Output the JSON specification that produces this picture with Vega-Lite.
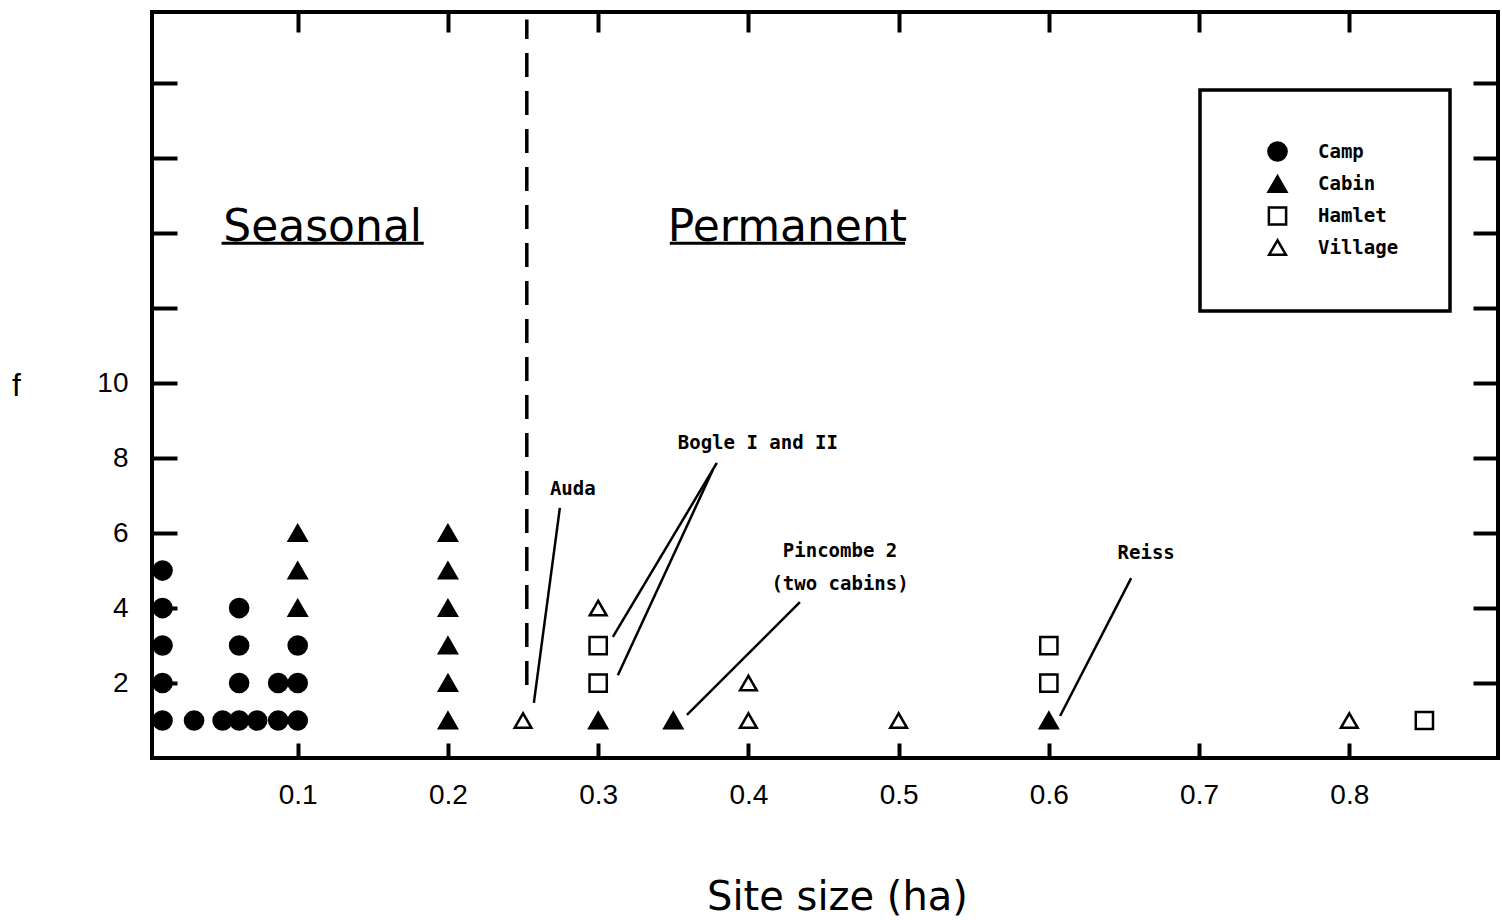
{
  "$schema": "https://vega.github.io/schema/vega-lite/v6.json",
  "width": 1346,
  "height": 746,
  "autosize": {"type": "none"},
  "padding": {"left": 152, "top": 12, "right": 4, "bottom": 162},
  "background": "white",
  "config": {
    "view": {"stroke": "black", "strokeWidth": 4},
    "axis": {"domain": false, "grid": false, "tickColor": "black", "tickWidth": 4, "labelColor": "black", "labelFont": "Liberation Sans", "labelFontSize": 28, "titleColor": "black", "labelFlush": false, "labelOverlap": false, "labelBound": false},
    "legend": {"title": null, "orient": "none", "legendX": 1048, "legendY": 78, "padding": 51, "strokeColor": "black", "strokeWidth": 3.5, "symbolOffset": 16,
               "labelFont": "DejaVu Sans Mono", "labelFontWeight": "bold", "labelFontSize": 19, "labelColor": "black", "labelOffset": 30, "rowPadding": 4.5,
               "symbolStrokeWidth": 2.5, "symbolStrokeColor": "black"}
  },
  "datasets": {
    "divider": [{"x": 0.2525, "y1": 1.95, "y2": 19.7}],
    "points": [
      {"size": 0.01, "f": 1, "type": "Camp"}, {"size": 0.01, "f": 2, "type": "Camp"}, {"size": 0.01, "f": 3, "type": "Camp"}, {"size": 0.01, "f": 4, "type": "Camp"}, {"size": 0.01, "f": 5, "type": "Camp"},
      {"size": 0.031, "f": 1, "type": "Camp"}, {"size": 0.05, "f": 1, "type": "Camp"},
      {"size": 0.061, "f": 1, "type": "Camp"}, {"size": 0.061, "f": 2, "type": "Camp"}, {"size": 0.061, "f": 3, "type": "Camp"}, {"size": 0.061, "f": 4, "type": "Camp"},
      {"size": 0.073, "f": 1, "type": "Camp"}, {"size": 0.087, "f": 1, "type": "Camp"}, {"size": 0.087, "f": 2, "type": "Camp"},
      {"size": 0.1, "f": 1, "type": "Camp"}, {"size": 0.1, "f": 2, "type": "Camp"}, {"size": 0.1, "f": 3, "type": "Camp"},
      {"size": 0.1, "f": 4, "type": "Cabin"}, {"size": 0.1, "f": 5, "type": "Cabin"}, {"size": 0.1, "f": 6, "type": "Cabin"},
      {"size": 0.2, "f": 1, "type": "Cabin"}, {"size": 0.2, "f": 2, "type": "Cabin"}, {"size": 0.2, "f": 3, "type": "Cabin"}, {"size": 0.2, "f": 4, "type": "Cabin"}, {"size": 0.2, "f": 5, "type": "Cabin"}, {"size": 0.2, "f": 6, "type": "Cabin"},
      {"size": 0.3, "f": 1, "type": "Cabin"}, {"size": 0.35, "f": 1, "type": "Cabin"}, {"size": 0.6, "f": 1, "type": "Cabin"},
      {"size": 0.25, "f": 1, "type": "Village"}, {"size": 0.3, "f": 4, "type": "Village"}, {"size": 0.4, "f": 1, "type": "Village"}, {"size": 0.4, "f": 2, "type": "Village"}, {"size": 0.5, "f": 1, "type": "Village"}, {"size": 0.8, "f": 1, "type": "Village"},
      {"size": 0.3, "f": 2, "type": "Hamlet"}, {"size": 0.3, "f": 3, "type": "Hamlet"}, {"size": 0.6, "f": 2, "type": "Hamlet"}, {"size": 0.6, "f": 3, "type": "Hamlet"}, {"size": 0.85, "f": 1, "type": "Hamlet"}
    ],
    "leaders": [
      {"x": 0.2745, "y": 6.67, "x2": 0.2572, "y2": 1.47},
      {"x": 0.379, "y": 7.87, "x2": 0.3098, "y2": 3.23},
      {"x": 0.3763, "y": 7.68, "x2": 0.3131, "y2": 2.21},
      {"x": 0.4343, "y": 4.16, "x2": 0.3591, "y2": 1.15},
      {"x": 0.6548, "y": 4.8, "x2": 0.6075, "y2": 1.12}
    ],
    "notes": [
      {"x": 0.2831, "y": 7.17, "text": "Auda"},
      {"x": 0.4063, "y": 8.4, "text": "Bogle I and II"},
      {"x": 0.461, "y": 5.52, "text": "Pincombe 2"},
      {"x": 0.461, "y": 4.64, "text": "(two cabins)"},
      {"x": 0.6648, "y": 5.47, "text": "Reiss"}
    ],
    "headings": [
      {"x": 0.1166, "y": 13.8, "text": "Seasonal"},
      {"x": 0.426, "y": 13.8, "text": "Permanent"}
    ],
    "underlines": [
      {"x": 0.0493, "x2": 0.1839, "y": 13.73},
      {"x": 0.3477, "x2": 0.5043, "y": 13.73}
    ]
  },
  "layer": [
    {
      "data": {"name": "divider"},
      "mark": {"type": "rule", "strokeDash": [24, 14], "strokeWidth": 3.5, "color": "black"},
      "encoding": {
        "x": {"field": "x", "type": "quantitative", "scale": {"domain": [0.003, 0.899], "nice": false, "zero": false},
              "axis": {"orient": "top", "values": [0.1, 0.2, 0.3, 0.4, 0.5, 0.6, 0.7, 0.8], "tickSize": -20, "labels": false, "title": null}},
        "y": {"field": "y1", "type": "quantitative", "scale": {"domain": [0, 19.9], "nice": false, "zero": true},
              "axis": {"orient": "right", "values": [2, 4, 6, 8, 10, 12, 14, 16, 18], "tickSize": -25, "labels": false, "title": null}},
        "y2": {"field": "y2"}
      }
    },
    {
      "data": {"name": "points"},
      "mark": {"type": "point", "filled": true, "strokeWidth": 2.5, "opacity": 1},
      "encoding": {
        "x": {"field": "size", "type": "quantitative",
              "axis": {"orient": "bottom", "values": [0.1, 0.2, 0.3, 0.4, 0.5, 0.6, 0.7, 0.8], "format": ".1f", "tickSize": -15, "labelPadding": 38,
                       "title": "Site size (ha)", "titleFont": "DejaVu Sans", "titleFontSize": 40, "titleFontWeight": "normal", "titleX": 685, "titleY": 139, "titleAlign": "center", "titleBaseline": "middle"}},
        "y": {"field": "f", "type": "quantitative",
              "axis": {"orient": "left", "values": [2, 4, 6, 8, 10, 12, 14, 16, 18], "labelExpr": "datum.value <= 10 ? datum.label : ''", "tickSize": -25, "labelPadding": 49,
                       "title": "f", "titleAngle": 0, "titleX": -136, "titleY": 373, "titleFont": "Liberation Sans", "titleFontSize": 32, "titleFontWeight": "normal", "titleAlign": "center", "titleBaseline": "middle"}},
        "shape": {"field": "type", "type": "nominal", "title": null,
                  "scale": {"domain": ["Camp", "Cabin", "Hamlet", "Village"], "range": ["circle", "triangle-up", "square", "triangle-up"]}},
        "fill": {"field": "type", "type": "nominal", "title": null,
                 "scale": {"domain": ["Camp", "Cabin", "Hamlet", "Village"], "range": ["black", "black", "white", "white"]}},
        "stroke": {"field": "type", "type": "nominal", "title": null,
                   "scale": {"domain": ["Camp", "Cabin", "Hamlet", "Village"], "range": ["black", "black", "black", "black"]}},
        "size": {"field": "type", "type": "nominal", "title": null,
                 "scale": {"domain": ["Camp", "Cabin", "Hamlet", "Village"], "range": [330, 280, 170, 280]}}
      }
    },
    {
      "data": {"name": "leaders"},
      "mark": {"type": "rule", "strokeWidth": 2.5, "color": "black"},
      "encoding": {
        "x": {"field": "x", "type": "quantitative", "axis": null},
        "y": {"field": "y", "type": "quantitative", "axis": null},
        "x2": {"field": "x2"},
        "y2": {"field": "y2"}
      }
    },
    {
      "data": {"name": "underlines"},
      "mark": {"type": "rule", "strokeWidth": 3, "color": "black"},
      "encoding": {
        "x": {"field": "x", "type": "quantitative", "axis": null},
        "x2": {"field": "x2"},
        "y": {"field": "y", "type": "quantitative", "axis": null}
      }
    },
    {
      "data": {"name": "notes"},
      "mark": {"type": "text", "font": "DejaVu Sans Mono", "fontWeight": "bold", "fontSize": 19, "align": "center", "baseline": "middle", "color": "black"},
      "encoding": {
        "x": {"field": "x", "type": "quantitative", "axis": null},
        "y": {"field": "y", "type": "quantitative", "axis": null},
        "text": {"field": "text"}
      }
    },
    {
      "data": {"name": "headings"},
      "mark": {"type": "text", "font": "DejaVu Sans", "fontSize": 44, "align": "center", "baseline": "alphabetic", "color": "black"},
      "encoding": {
        "x": {"field": "x", "type": "quantitative", "axis": null},
        "y": {"field": "y", "type": "quantitative", "axis": null},
        "text": {"field": "text"}
      }
    }
  ],
  "resolve": {"axis": {"x": "independent", "y": "independent"}}
}
